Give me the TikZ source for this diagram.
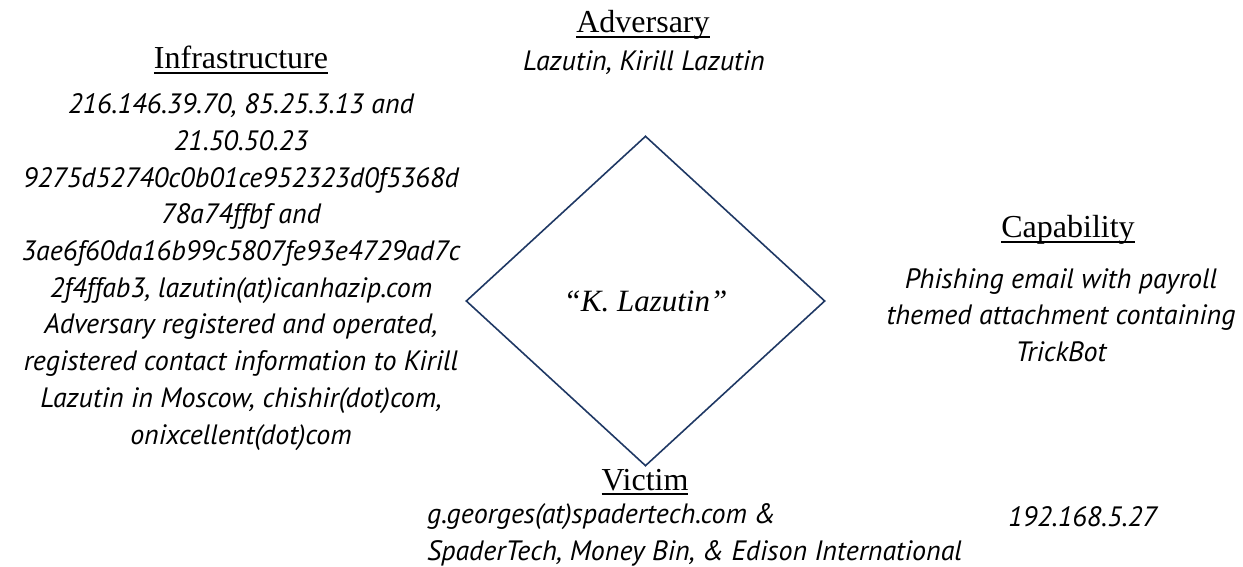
\documentclass[tikz,border=0pt]{standalone}
\usepackage{fontspec}
\setmainfont{Liberation Serif}
\newfontfamily\gill{PT Sans}
\usetikzlibrary{shapes.geometric}
\definecolor{navy}{HTML}{1F3864}
% heading text with a fixed-position underline
\newcommand\hdul[1]{\leavevmode\setbox0=\hbox{#1}\rlap{\rule[-0.16em]{\wd0}{0.055em}}\box0}

\begin{document}
\begin{tikzpicture}[x=1pt,y=-1pt,
  heading/.style={inner sep=0pt, font=\fontsize{32}{36}\selectfont},
  detail/.style={inner sep=0pt, align=center, font=\gill\itshape\fontsize{28}{36.7}\selectfont},
  core/.style={shape=diamond, draw=navy, line width=1.6pt, inner sep=0pt,
    minimum width=359pt, minimum height=330pt,
    font=\itshape\fontsize{31}{36}\selectfont},
]
\useasboundingbox (0,0) rectangle (1243,567);

% central diamond
\node[core] (event) at (645.5,301) {``K. Lazutin''};

% adversary (top)
\node[heading] (advh) at (643,25) {\hdul{Adversary}};
\node[detail] (advt) at (644,63) {Lazutin, Kirill Lazutin};

% infrastructure (left)
\node[heading] (infh) at (241,60) {\hdul{Infrastructure}};
\node[detail] (inft) at (241,272) {216.146.39.70, 85.25.3.13 and\\
21.50.50.23\\
9275d52740c0b01ce952323d0f5368d\\
78a74ffbf and\\
3ae6f60da16b99c5807fe93e4729ad7c\\
2f4ffab3, lazutin(at)icanhazip.com\\
Adversary registered and operated,\\
registered contact information to Kirill\\
Lazutin in Moscow, chishir(dot)com,\\
onixcellent(dot)com};

% capability (right)
\node[heading] (caph) at (1068,230) {\hdul{Capability}};
\node[detail] (capt) at (1061,315) {Phishing email with payroll\\
themed attachment containing\\
TrickBot};

% victim (bottom)
\node[heading] (vich) at (645,482) {\hdul{Victim}};
\node[detail, anchor=west] (vic1) at (427,517) {g.georges(at)spadertech.com \&};
\node[detail, anchor=west] (vic2) at (1008,517) {192.168.5.27};
\node[detail, anchor=west] (vic3) at (427,553) {SpaderTech, Money Bin, \& Edison International};
\end{tikzpicture}
\end{document}
